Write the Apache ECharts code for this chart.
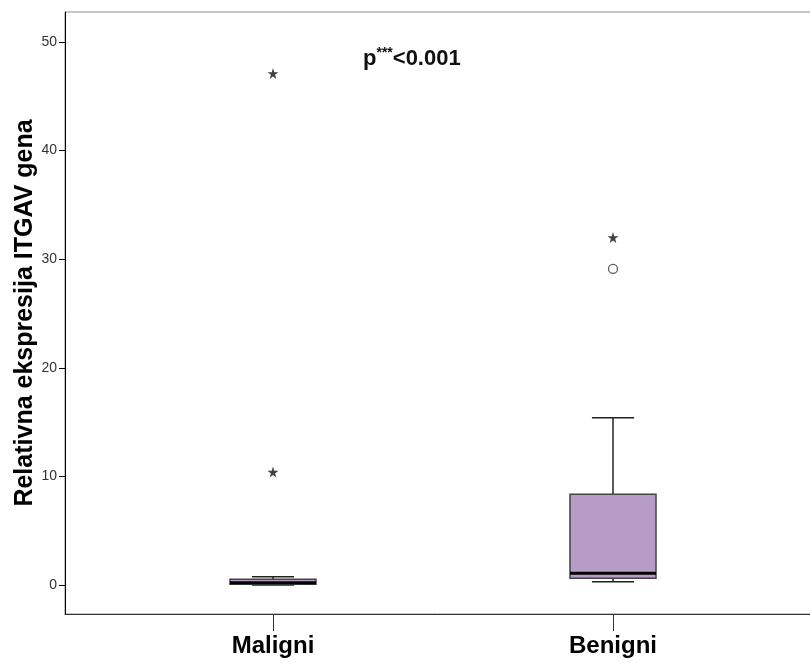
<!DOCTYPE html>
<html>
<head>
<meta charset="utf-8">
<script src="https://cdn.jsdelivr.net/npm/echarts@6/dist/echarts.min.js"></script>
<style>html,body{margin:0;padding:0;background:#fff}#c{width:810px;height:664px}</style>
</head>
<body>
<div id="c"></div>
<script>
// Categories
const categories = ['Maligni', 'Benigni'];
// Box stats per category: [lowWhisker, Q1, median, Q3, highWhisker]
const maligniBox = [0.0, 0.06, 0.2, 0.52, 0.76];
const benigniBox = [0.3, 0.62, 1.08, 8.35, 15.4];
// Extreme outliers (stars): [categoryIndex, value]
const extremeOutliers = [[0, 47.1], [0, 10.4], [1, 32.0]];
// Mild outliers (circles)
const mildOutliers = [[1, 29.1]];
// Y tick labels
const yTicks = [0, 10, 20, 30, 40, 50];
const yName = 'Relativna ekspresija ITGAV gena';
const pText = ['p', '***', '<0.001'];

const yMin = -2.67, yMax = 52.76;
const boxData = [[0].concat(maligniBox), [1].concat(benigniBox)];

const chart = echarts.init(document.getElementById('c'), null, {renderer: 'canvas'});
const starPath = 'path://M50,0 L61,35 L98,35 L68,57 L79,91 L50,70 L21,91 L32,57 L2,35 L39,35 Z';

chart.setOption({
  backgroundColor: '#fff',
  animation: false,
  grid: [
    {left: 65, right: -1, top: 12, bottom: 50, show: true, borderColor: '#8c8c8c', borderWidth: 1, backgroundColor: 'transparent', containLabel: false, outerBoundsMode: 'none'},
    {left: 103, right: 27, top: 12, bottom: 50, containLabel: false, outerBoundsMode: 'none'}
  ],
  xAxis: [
    {gridIndex: 0, type: 'value', min: 0, max: 1, axisLine: {show: true, onZero: false, lineStyle: {color: '#333', width: 1}}, axisTick: {show: false}, axisLabel: {show: false}, splitLine: {show: false}},
    {gridIndex: 1, type: 'category', data: categories, axisLine: {show: false, onZero: false}, axisTick: {show: true, alignWithLabel: true, length: 17, lineStyle: {color: '#333', width: 1}},
     axisLabel: {color: '#000', fontFamily: 'Liberation Sans, Arial', fontWeight: 'bold', fontSize: 24, margin: 20}, splitLine: {show: false}}
  ],
  yAxis: [
    {gridIndex: 0, type: 'value', min: yMin, max: yMax,
     name: yName, nameLocation: 'middle', nameGap: 27, nameRotate: 90, nameMoveOverlap: false,
     nameTextStyle: {color: '#000', fontFamily: 'Liberation Sans, Arial', fontWeight: 'bold', fontSize: 25},
     axisLine: {show: true, onZero: false, lineStyle: {color: '#000', width: 1}},
     axisTick: {show: true, length: 6, customValues: yTicks, lineStyle: {color: '#000'}},
     axisLabel: {customValues: yTicks, color: '#333', fontFamily: 'Liberation Sans, Arial', fontSize: 14, margin: 8},
     splitLine: {show: false}},
    {gridIndex: 1, type: 'value', min: yMin, max: yMax, show: false, splitLine: {show: false}}
  ],
  graphic: [{
    type: 'text', left: 363, top: 46,
    style: {
      text: '{a|' + pText[0] + '}{s|' + pText[1] + '}{a|' + pText[2] + '}',
      rich: {
        a: {fontSize: 22, fontFamily: 'Liberation Sans, Arial', fill: '#111', fontWeight: 'bold', lineHeight: 24, verticalAlign: 'bottom'},
        s: {fontSize: 14, fontFamily: 'Liberation Sans, Arial', fill: '#111', fontWeight: 'bold', lineHeight: 18, verticalAlign: 'top'}
      }
    }
  }],
  series: [
    {
      type: 'custom', xAxisIndex: 1, yAxisIndex: 1,
      encode: {x: 0, y: [1, 2, 3, 4, 5]},
      data: boxData,
      renderItem: function (params, api) {
        const x = api.value(0);
        const band = api.size([1, 0])[0];
        const bw = band * 0.253, cw = band * 0.124;
        const pLow = api.coord([x, api.value(1)]);
        const pQ1 = api.coord([x, api.value(2)]);
        const pMed = api.coord([x, api.value(3)]);
        const pQ3 = api.coord([x, api.value(4)]);
        const pHigh = api.coord([x, api.value(5)]);
        const cx = pQ1[0];
        const ln = {stroke: '#222', lineWidth: 1.5};
        return {
          type: 'group',
          children: [
            {type: 'line', shape: {x1: cx, y1: pQ3[1], x2: cx, y2: pHigh[1]}, style: ln},
            {type: 'line', shape: {x1: cx, y1: pQ1[1], x2: cx, y2: pLow[1]}, style: ln},
            {type: 'line', shape: {x1: cx - cw / 2, y1: pHigh[1], x2: cx + cw / 2, y2: pHigh[1]}, style: ln},
            {type: 'line', shape: {x1: cx - cw / 2, y1: pLow[1], x2: cx + cw / 2, y2: pLow[1]}, style: ln},
            {type: 'rect', shape: {x: cx - bw / 2, y: pQ3[1], width: bw, height: pQ1[1] - pQ3[1]}, style: {fill: '#b89cc8', stroke: '#444', lineWidth: 1.5}},
            {type: 'line', shape: {x1: cx - bw / 2, y1: pMed[1], x2: cx + bw / 2, y2: pMed[1]}, style: {stroke: '#000', lineWidth: 3}}
          ]
        };
      },
      z: 2
    },
    {
      type: 'scatter', xAxisIndex: 1, yAxisIndex: 1,
      data: extremeOutliers, symbol: starPath, symbolSize: 11,
      itemStyle: {color: '#111'}, z: 3
    },
    {
      type: 'scatter', xAxisIndex: 1, yAxisIndex: 1,
      data: mildOutliers, symbol: 'circle', symbolSize: 9,
      itemStyle: {color: '#fff', borderColor: '#333', borderWidth: 1.3}, z: 3
    }
  ]
});
</script>
</body>
</html>
